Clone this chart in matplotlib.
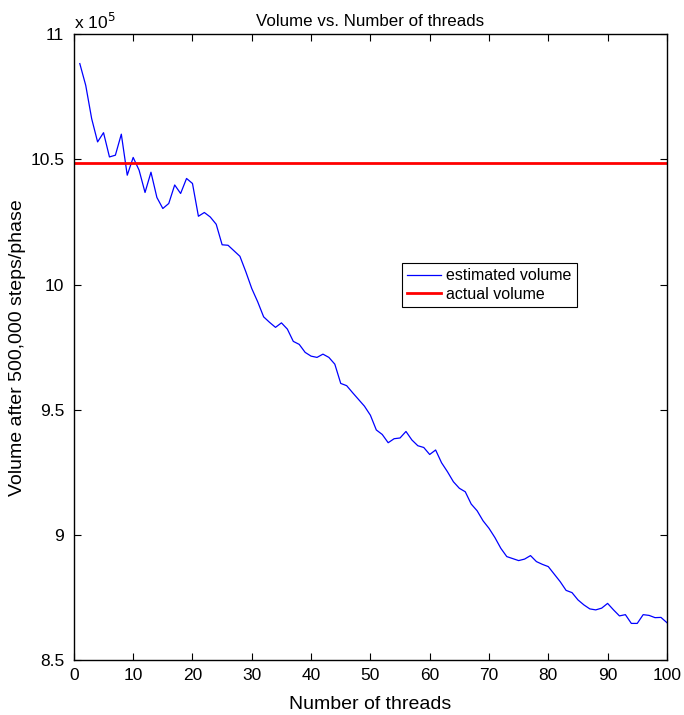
import matplotlib.pyplot as plt
import numpy as np

plt.rcParams['font.family'] = ['Liberation Sans', 'DejaVu Sans']

# estimated volume for 1..100 threads (units of 1e5)
threads = np.arange(1, 101)
est_volume = [
    10.883, 10.796, 10.663, 10.570, 10.607, 10.510, 10.517, 10.601, 10.437, 10.508,
    10.457, 10.368, 10.449, 10.348, 10.304, 10.324, 10.398, 10.364, 10.424, 10.404,
    10.273, 10.288, 10.270, 10.241, 10.159, 10.157, 10.135, 10.113, 10.051, 9.984,
    9.931, 9.871, 9.849, 9.829, 9.847, 9.822, 9.773, 9.761, 9.729, 9.714,
    9.709, 9.722, 9.709, 9.682, 9.605, 9.596, 9.568, 9.541, 9.514, 9.478,
    9.419, 9.401, 9.368, 9.384, 9.387, 9.413, 9.379, 9.356, 9.349, 9.321,
    9.339, 9.288, 9.252, 9.212, 9.186, 9.172, 9.123, 9.096, 9.056, 9.026,
    8.989, 8.946, 8.913, 8.905, 8.897, 8.903, 8.917, 8.893, 8.882, 8.873,
    8.843, 8.813, 8.778, 8.769, 8.740, 8.720, 8.704, 8.700, 8.707, 8.726,
    8.700, 8.676, 8.681, 8.646, 8.646, 8.681, 8.678, 8.669, 8.670, 8.649,
]
actual_volume = 10.487

fig = plt.figure(figsize=(6.84, 7.15), dpi=100)
ax = fig.add_axes([0.108, 0.077, 0.867, 0.875])

ax.plot(threads, est_volume, color='blue', lw=0.9, label='estimated volume')
ax.axhline(actual_volume, color='red', lw=2, label='actual volume')

ax.set_xlim(0, 100)
ax.set_ylim(8.5, 11)
ax.set_xticks(np.arange(0, 101, 10))
ax.set_yticks([8.5, 9, 9.5, 10, 10.5, 11])
ax.set_yticklabels(['8.5', '9', '9.5', '10', '10.5', '11'])
ax.tick_params(direction='in', top=True, right=True, length=5, width=0.8, labelsize=12.5)
ax.tick_params(axis='x', pad=6)
ax.tick_params(axis='y', pad=7)
for s in ax.spines.values():
    s.set_linewidth(1.0)

ax.text(0.0, 1.003, r'x 10$^5$', transform=ax.transAxes, fontsize=12.5, va='bottom', ha='left')
ax.set_title('Volume vs. Number of threads', fontsize=12.2, pad=6)
ax.set_xlabel('Number of threads', fontsize=14, labelpad=9)
ax.set_ylabel('Volume after 500,000 steps/phase', fontsize=14, labelpad=3)

leg = ax.legend(loc='lower left', bbox_to_anchor=(0.553, 0.564), fontsize=11.5,
                fancybox=False, framealpha=1, edgecolor='black', borderpad=0.35,
                handlelength=2.1, handletextpad=0.3, labelspacing=0.2, borderaxespad=0)
leg.get_frame().set_linewidth(0.8)

fig.savefig('out.png', dpi=100)
